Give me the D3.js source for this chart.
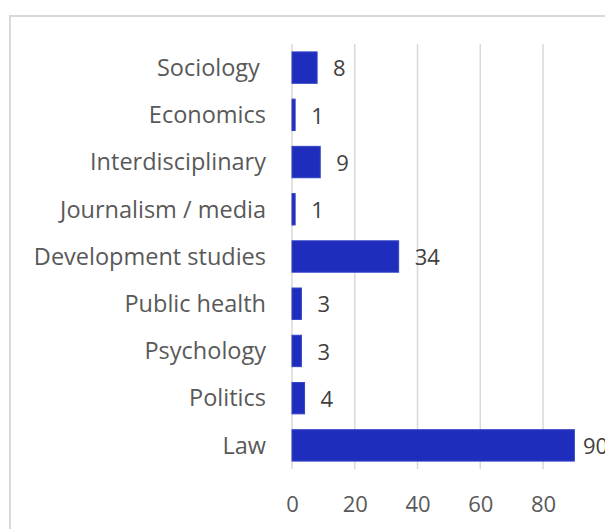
<!DOCTYPE html>
<html><head><meta charset="utf-8">
<script src="https://cdn.jsdelivr.net/npm/d3@7"></script>
<style>
html,body{margin:0;padding:0;background:#fff;overflow:hidden;}
text{font-family:"Open Sans","Noto Sans",sans-serif;}
</style></head>
<body>
<svg id="chart" width="605" height="529"></svg>
<script>
const categories = ["Sociology ", "Economics", "Interdisciplinary", "Journalism / media", "Development studies", "Public health", "Psychology", "Politics", "Law"];
const values = [8, 1, 9, 1, 34, 3, 3, 4, 90];
const tickValues = [0, 20, 40, 60, 80];

const svg = d3.select("#chart");
// outer frame
svg.append("rect").attr("x", 10).attr("y", 16).attr("width", 700).attr("height", 600)
  .attr("fill", "none").attr("stroke", "#d9d9d9").attr("stroke-width", 2);

const x = d3.scaleLinear().domain([0, 100]).range([292, 605.75]);
const y = d3.scaleBand().domain(categories).range([44, 469]).paddingInner(0.335).paddingOuter(0.1675);

// gridlines
svg.append("g").selectAll("line").data(tickValues).join("line")
  .attr("x1", d => x(d)).attr("x2", d => x(d))
  .attr("y1", 44).attr("y2", 469)
  .attr("stroke", "#d9d9d9").attr("stroke-width", 1.5);

// bars
svg.append("g").selectAll("rect").data(values).join("rect")
  .attr("x", x(0))
  .attr("y", (d, i) => y(categories[i]))
  .attr("width", d => x(d) - x(0))
  .attr("height", y.bandwidth())
  .attr("fill", "#1f2dbd")
  .attr("stroke", "#3544c6").attr("stroke-width", 1);

// value labels
svg.append("g").selectAll("text").data(values).join("text")
  .attr("x", d => Math.min(x(d) + 16, 583))
  .attr("y", (d, i) => y(categories[i]) + y.bandwidth() / 2 + 1)
  .attr("dy", "0.35em")
  .attr("font-size", 22)
  .attr("fill", "#404040")
  .text(d => d);

// category labels
svg.append("g").selectAll("text").data(categories).join("text")
  .attr("x", 266)
  .attr("y", d => y(d) + y.bandwidth() / 2)
  .attr("dy", "0.35em")
  .attr("text-anchor", "end")
  .attr("font-size", 23.5)
  .attr("fill", "#595959")
  .style("white-space", "pre")
  .text(d => d);

// x axis tick labels
const axis = d3.axisBottom(x).tickValues(tickValues).tickSize(0).tickPadding(0);
const gx = svg.append("g").attr("transform", "translate(0,496)").call(axis);
gx.select(".domain").remove();
gx.selectAll("text").attr("font-size", 22).attr("fill", "#595959")
  .attr("font-family", "'Open Sans','Noto Sans',sans-serif").attr("dy", "0.71em");
</script>
</body></html>
